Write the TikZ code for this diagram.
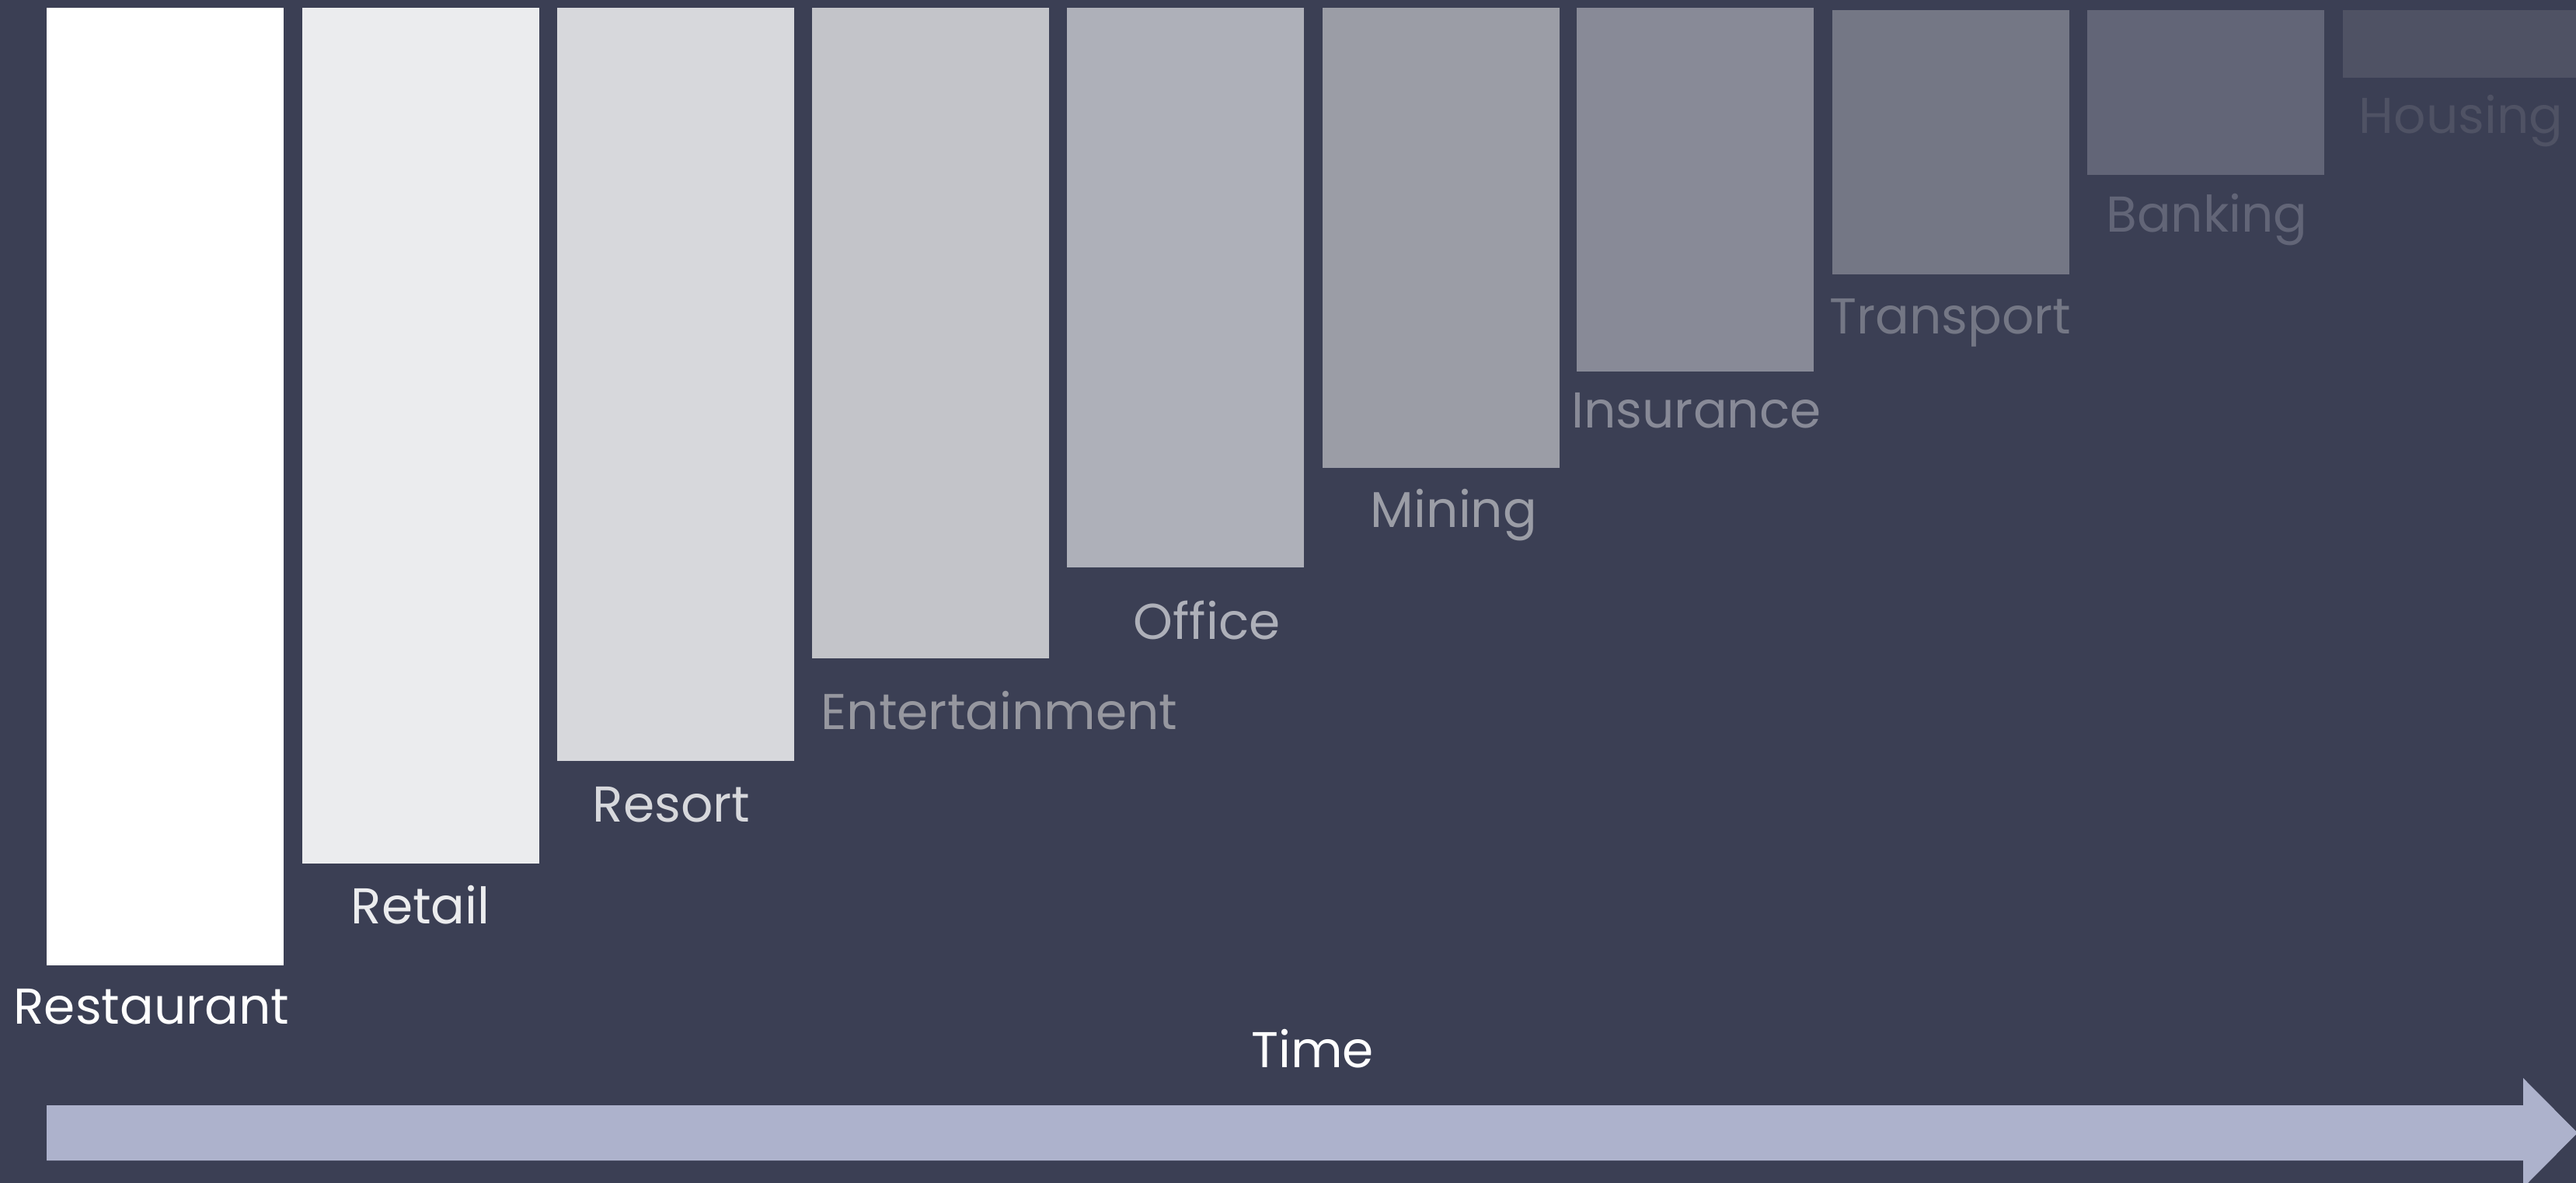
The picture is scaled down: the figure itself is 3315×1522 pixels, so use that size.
\documentclass[tikz,border=0pt]{standalone}
\usepackage{fontspec}
\setmainfont{Poppins}
\definecolor{bg}{HTML}{3B3F54}
\definecolor{timebar}{HTML}{ADB2CC}
\definecolor{c1}{HTML}{FFFFFF}
\definecolor{c2}{HTML}{EBECEE}
\definecolor{c3}{HTML}{D7D8DC}
\definecolor{c4}{HTML}{C3C4C9}
\definecolor{c5}{HTML}{AEB0B9}
\definecolor{c6}{HTML}{9B9DA6}
\definecolor{c7}{HTML}{888A97}
\definecolor{c8}{HTML}{747785}
\definecolor{c9}{HTML}{626577}
\definecolor{c10}{HTML}{4F5264}
\definecolor{entlab}{HTML}{96979F}
\begin{document}
\begin{tikzpicture}[x=0.01cm,y=-0.01cm,
        lab/.style={anchor=base,inner sep=0pt,font=\fontsize{18.4}{22}\selectfont,text=#1}]
            \useasboundingbox (0,0) rectangle (3315,1522);
            \fill[bg] (0,0) rectangle (3315,1522);
            % bars, tallest first, with their labels
            \foreach \bx/\bt/\bb/\name/\lx/\ly/\lcol [count=\i] in {
                60/10/1242/Restaurant/195/1317/c1,
                389/10/1111/Retail/541/1188/c2,
                717/10/979/Resort/864/1057/c3,
                1045/10/847/Entertainment/1286/938/entlab,
                1373/10/730/Office/1553/822/c5,
                1702/10/602/Mining/1871/679/c6,
                2029/10/478/Insurance/2183/551/c7,
                2358/13/353/Transport/2510/430/c8,
                2686/13/225/Banking/2840/299/c9,
                3015/13/100/Housing/3167/172/c10}{
                \fill[c\i] (\bx,\bt) rectangle (\bx+305,\bb);
                \node[lab=\lcol] at (\lx,\ly)(lab\i){\name};
            }
            % time axis
            \fill[timebar] (60,1422) -- (3247,1422) -- (3247,1387) -- (3317,1457.5)
                -- (3247,1528) -- (3247,1493) -- (60,1493) -- cycle;
            \node[lab=white] at (1689,1373)(time){Time};
        \end{tikzpicture}
\end{document}
